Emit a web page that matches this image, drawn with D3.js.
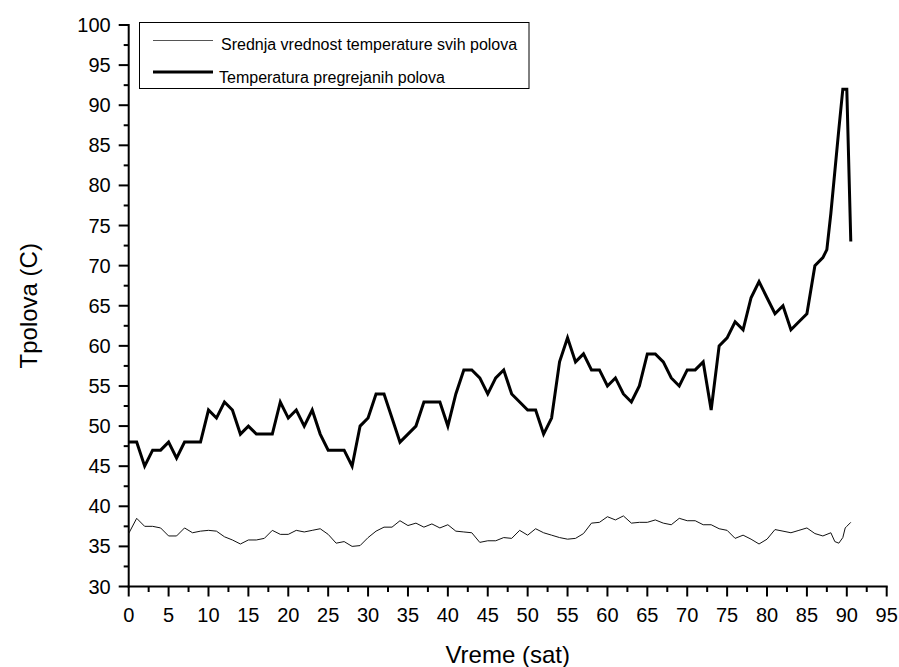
<!DOCTYPE html>
<html lang="sr">

<head>
    <meta charset="utf-8">
    <style>
        body { margin: 0; background: #fff; }
        text { font-family: Arial, 'Liberation Sans', sans-serif; fill: #000; }
    </style>
</head>

<body>
    <script src='https://d3js.org/d3.v7.min.js'></script>

    <script>
        // temperatura pregrejanih polova (debela linija)
        const hotTime = [0, 1, 2, 3, 4, 5, 6, 7, 8, 9, 10, 11, 12, 13, 14, 15, 16, 17, 18, 19, 20,
            21, 22, 23, 24, 25, 26, 27, 28, 29, 30, 31, 32, 33, 34, 35, 36, 37, 38, 39, 40,
            41, 42, 43, 44, 45, 46, 47, 48, 49, 50, 51, 52, 53, 54, 55, 56, 57, 58, 59, 60,
            61, 62, 63, 64, 65, 66, 67, 68, 69, 70, 71, 72, 73, 74, 75, 76, 77, 78, 79, 80,
            81, 82, 83, 84, 85, 86, 87, 87.5, 88, 89, 89.5, 90, 90.5];
        const hotTemp = [48, 48, 45, 47, 47, 48, 46, 48, 48, 48, 52, 51, 53, 52, 49, 50, 49, 49, 49, 53, 51,
            52, 50, 52, 49, 47, 47, 47, 45, 50, 51, 54, 54, 51, 48, 49, 50, 53, 53, 53, 50,
            54, 57, 57, 56, 54, 56, 57, 54, 53, 52, 52, 49, 51, 58, 61, 58, 59, 57, 57, 55,
            56, 54, 53, 55, 59, 59, 58, 56, 55, 57, 57, 58, 52, 60, 61, 63, 62, 66, 68, 66,
            64, 65, 62, 63, 64, 70, 71, 72, 76.5, 87, 92, 92, 73];

        // srednja vrednost temperature svih polova (tanka linija)
        const avgTime = [0, 1, 2, 3, 4, 5, 6, 7, 8, 9, 10, 11, 12, 13, 14, 15, 16, 17, 18, 19, 20,
            21, 22, 23, 24, 25, 26, 27, 28, 29, 30, 31, 32, 33, 34, 35, 36, 37, 38, 39, 40,
            41, 42, 43, 44, 45, 46, 47, 48, 49, 50, 51, 52, 53, 54, 55, 56, 57, 58, 59, 60,
            61, 62, 63, 64, 65, 66, 67, 68, 69, 70, 71, 72, 73, 74, 75, 76, 77, 78, 79, 80,
            81, 82, 83, 84, 85, 86, 87, 88, 88.5, 89, 89.5, 89.8, 90, 90.5];
        const avgTemp = [36.6, 38.5, 37.5, 37.5, 37.3, 36.3, 36.3, 37.3, 36.7, 36.9, 37.0, 36.9, 36.2, 35.8, 35.3, 35.8, 35.8, 36.0, 37.0, 36.5, 36.5,
            37.0, 36.8, 37.0, 37.2, 36.5, 35.4, 35.6, 35.0, 35.1, 36.1, 36.9, 37.4, 37.4, 38.2, 37.6, 37.9, 37.4, 37.8, 37.3, 37.7,
            36.9, 36.8, 36.7, 35.5, 35.7, 35.7, 36.1, 36.0, 37.0, 36.4, 37.2, 36.7, 36.4, 36.1, 35.9, 36.0, 36.6, 37.9, 38.0, 38.7,
            38.3, 38.8, 37.9, 38.0, 38.0, 38.3, 37.9, 37.7, 38.5, 38.2, 38.2, 37.7, 37.7, 37.2, 37.0, 36.0, 36.4, 35.9, 35.3, 35.9,
            37.1, 36.9, 36.7, 37.0, 37.3, 36.6, 36.3, 36.7, 35.6, 35.4, 36.1, 37.3, 37.5, 38.0];

        const xTicks = d3.range(0, 96, 5);
        const yTicks = d3.range(30, 101, 5);
        const legendLabels = ['Srednja vrednost temperature svih polova', 'Temperatura pregrejanih polova'];

        const width = 899;
        const height = 667;
        const pLeft = 128.7, pRight = 886.7, pTop = 25, pBottom = 586.5;

        var x = d3.scaleLinear().domain([0, 95]).range([pLeft, pRight]);
        var y = d3.scaleLinear().domain([30, 100]).range([pBottom, pTop]);

        var svg = d3.select("body")
            .append("svg")
            .attr("width", width)
            .attr("height", height);

        // male crtice na svakih 2.5
        var xMinor = d3.range(2.5, 95, 5);
        var yMinor = d3.range(32.5, 100, 5);

        var gx = svg.append("g").attr("transform", "translate(0," + pBottom + ")");
        gx.append("line").attr("x1", pLeft - 1).attr("x2", pRight + 1)
            .attr("stroke", "#000").attr("stroke-width", 2);
        gx.selectAll(".maj").data(xTicks).enter().append("line")
            .attr("x1", d => x(d)).attr("x2", d => x(d)).attr("y1", 0).attr("y2", 10)
            .attr("stroke", "#000").attr("stroke-width", 2);
        gx.selectAll(".min").data(xMinor).enter().append("line")
            .attr("x1", d => x(d)).attr("x2", d => x(d)).attr("y1", 0).attr("y2", 5.5)
            .attr("stroke", "#000").attr("stroke-width", 2);
        gx.selectAll("text").data(xTicks).enter().append("text")
            .attr("x", d => x(d)).attr("y", 35)
            .style("text-anchor", "middle").style("font-size", "20px")
            .text(d => d);

        var gy = svg.append("g").attr("transform", "translate(" + pLeft + ",0)");
        gy.append("line").attr("y1", pTop - 1).attr("y2", pBottom + 1)
            .attr("stroke", "#000").attr("stroke-width", 2);
        gy.selectAll(".maj").data(yTicks).enter().append("line")
            .attr("y1", d => y(d)).attr("y2", d => y(d)).attr("x1", 0).attr("x2", -10)
            .attr("stroke", "#000").attr("stroke-width", 2);
        gy.selectAll(".min").data(yMinor).enter().append("line")
            .attr("y1", d => y(d)).attr("y2", d => y(d)).attr("x1", 0).attr("x2", -5)
            .attr("stroke", "#000").attr("stroke-width", 2);
        gy.selectAll("text").data(yTicks).enter().append("text")
            .attr("x", -18).attr("y", d => y(d)).attr("dy", ".35em")
            .style("text-anchor", "end").style("font-size", "20px")
            .text(d => d);

        // naslovi osa
        svg.append("text")
            .attr("x", (pLeft + pRight) / 2).attr("y", 663)
            .style("text-anchor", "middle").style("font-size", "24px")
            .text("Vreme (sat)");
        svg.append("text")
            .attr("transform", "translate(37," + ((pTop + pBottom) / 2) + ") rotate(-90)")
            .style("text-anchor", "middle").style("font-size", "24px")
            .text("Tpolova (C)");

        var line = d3.line().x(d => x(d[0])).y(d => y(d[1]));

        svg.append("path")
            .datum(d3.zip(avgTime, avgTemp))
            .attr("d", line)
            .attr("fill", "none")
            .attr("stroke", "#111")
            .attr("stroke-width", 1);

        svg.append("path")
            .datum(d3.zip(hotTime, hotTemp))
            .attr("d", line)
            .attr("fill", "none")
            .attr("stroke", "#000")
            .attr("stroke-width", 3)
            .attr("stroke-linejoin", "miter");

        // legenda
        var lg = svg.append("g");
        lg.append("rect")
            .attr("x", 139.5).attr("y", 22.5).attr("width", 389.5).attr("height", 66)
            .attr("fill", "#fff").attr("stroke", "#000").attr("stroke-width", 1);
        lg.append("line").attr("x1", 153).attr("x2", 213).attr("y1", 40.5).attr("y2", 40.5)
            .attr("stroke", "#555").attr("stroke-width", 1);
        lg.append("text").attr("x", 221).attr("y", 50).style("font-size", "16px").text(legendLabels[0]);
        lg.append("line").attr("x1", 153).attr("x2", 213).attr("y1", 72).attr("y2", 72)
            .attr("stroke", "#000").attr("stroke-width", 3);
        lg.append("text").attr("x", 219).attr("y", 82.5).style("font-size", "16px").text(legendLabels[1]);
    </script>

</body>

</html>
